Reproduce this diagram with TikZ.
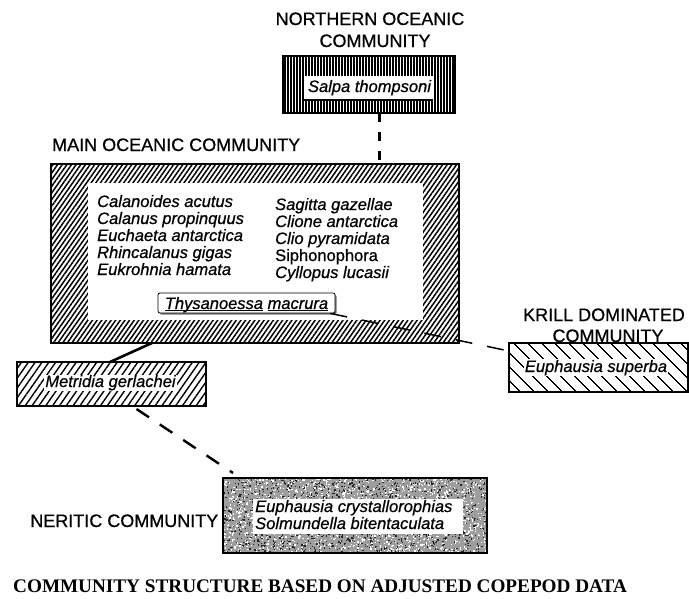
\documentclass[tikz,border=0pt]{standalone}
\usepackage{fontspec}
\setmainfont{Liberation Sans}[FakeBold=0.7]
\newfontfamily\capserif{Liberation Serif}
\usetikzlibrary{patterns.meta,calc}
\begin{document}
\begin{tikzpicture}[x=1pt,y=-1pt,
  ttl/.style={font=\fontsize{18}{20}\selectfont, inner sep=0pt},
  spec/.style={font=\fontsize{16.5}{17}\selectfont\itshape, inner sep=0pt},
  specup/.style={font=\fontsize{16.5}{17}\selectfont, inner sep=0pt},
  framed/.style={draw=black, line width=1.6pt, inner sep=0pt, outer sep=0pt},
  whitearea/.style={fill=white, draw=none, inner sep=0pt, outer sep=0pt},
  mainhatch/.style={framed, pattern={Lines[angle=55,distance=3.8pt,line width=1.5pt]}},
  methatch/.style={framed, pattern={Lines[angle=55,distance=5.6pt,line width=1.4pt]}},
  krillhatch/.style={framed, pattern={Lines[angle=-45,distance=10.5pt,line width=1.3pt]}},
  northhatch/.style={framed, pattern={Lines[angle=90,distance=3pt,line width=1.5pt]}},
  link/.style={line width=2.6pt},
  dashlink/.style={line width=2.4pt, dash pattern=on 15pt off 13pt},
  vdash/.style={line width=3pt, dash pattern=on 9pt off 10pt},
  thinlink/.style={line width=1.5pt, dash pattern=on 17pt off 15pt}
]
\useasboundingbox (0,0) rectangle (689,598);

% ---------------- Northern oceanic community
\node[ttl, anchor=base] (ntitle1) at (370,25) {NORTHERN OCEANIC};
\node[ttl, anchor=base] (ntitle2) at (375,47) {COMMUNITY};
\node[northhatch, minimum width=172, minimum height=57] (north) at (369,84.5) {};
\node[whitearea, minimum width=129, minimum height=24] (ninner) at (368.5,88) {};
\draw[line width=2.2pt] (ninner.south west) -- (ninner.south east);
\node[spec, anchor=base] (salpa) at (369.5,92) {Salpa thompsoni};

% ---------------- Main oceanic community
\node[ttl, anchor=base west] (mtitle) at (52,151) {MAIN OCEANIC COMMUNITY};
\node[mainhatch, minimum width=408, minimum height=179] (main) at (255,253.5) {};
\node[whitearea, minimum width=335, minimum height=137] (minner) at (255.5,251.5) {};

\foreach \t [count=\i] in {Calanoides acutus, Calanus propinquus, Euchaeta antarctica, Rhincalanus gigas, Eukrohnia hamata}
  \node[spec, anchor=base west] (ca\i) at (97,{207+17*(\i-1)}) {\t};
\node[spec, anchor=base west] (cb1) at (275,210) {Sagitta gazellae};
\node[spec, anchor=base west] (cb2) at (275,227) {Clione antarctica};
\node[spec, anchor=base west] (cb3) at (275,244) {Clio pyramidata};
\node[specup, anchor=base west] (cb4) at (275,261) {Siphonophora};
\node[spec, anchor=base west] (cb5) at (275,278) {Cyllopus lucasii};

\node[draw=black, line width=0.8pt, fill=white, rounded corners=2pt, inner sep=0pt,
      minimum width=177, minimum height=20,
      preaction={fill=black!55, rounded corners=2pt, transform canvas={shift={(1.5pt,-1.5pt)}}}]
      (thys) at (246.5,303) {};
\node[spec, anchor=base] (thystext) at (246.5,309) {\underline{\smash{Thysanoessa}} \underline{\smash{macrura}}};

% ---------------- Krill dominated community
\node[ttl, anchor=base] (ktitle1) at (604,321) {KRILL DOMINATED};
\node[ttl, anchor=base] (ktitle2) at (608,342) {COMMUNITY};
\node[krillhatch, minimum width=179, minimum height=49] (krill) at (598.5,367.5) {};
\node[spec, anchor=base, fill=white, inner xsep=1pt, inner ysep=1pt] (ksp) at (596,372) {Euphausia superba};

% ---------------- Metridia
\node[methatch, minimum width=189, minimum height=44] (metr) at (111.5,384) {};
\node[spec, anchor=base, fill=white, inner xsep=1pt, inner ysep=0.5pt] (mtext) at (110.5,387) {Metridia gerlachei};

% ---------------- Neritic community
\node[ttl, anchor=base east] (neriticlabel) at (218.5,527) {NERITIC COMMUNITY};
\node[framed, fill=black!38, minimum width=264, minimum height=75] (neritic) at (355,515.5) {};
\begin{scope}
  \clip (neritic.north west) rectangle (neritic.south east);
  \pgfmathsetseed{7}
  \foreach \k in {1,...,1400} {
    \pgfmathsetmacro\rx{223+264*rnd}
    \pgfmathsetmacro\ry{478+75*rnd}
    \fill[black!85] (\rx,\ry) rectangle ++(1.3,1.3);
  }
  \foreach \k in {1,...,1600} {
    \pgfmathsetmacro\rx{223+264*rnd}
    \pgfmathsetmacro\ry{478+75*rnd}
    \fill[white] (\rx,\ry) rectangle ++(1.3,1.3);
  }
\end{scope}
\draw[line width=1.6pt] (neritic.north west) rectangle (neritic.south east);
\node[whitearea, minimum width=210, minimum height=35] (ninner2) at (358,516.5) {};
\node[spec, anchor=base west] (ner1) at (255,512) {Euphausia crystallorophias};
\node[spec, anchor=base west] (ner2) at (255,529) {Solmundella bitentaculata};

% ---------------- Connectors
\draw[vdash] ([xshift=10pt]north.south) -- ([xshift=10pt]north.south |- main.north);
\draw[link] ([xshift=-103pt]main.south) -- ([xshift=-1.5pt]metr.north);
\draw[dashlink] ([xshift=25pt,yshift=-3pt]metr.south) -- ([xshift=10pt,yshift=5pt]neritic.north west);
\draw[thinlink] ([xshift=-5pt]thys.south east) -- ([yshift=-8pt]krill.north west);

% ---------------- Caption
\node[anchor=base west, inner sep=0pt, font=\capserif\bfseries\fontsize{19.2}{22}\selectfont] (caption) at (13,592)
  {COMMUNITY STRUCTURE BASED ON ADJUSTED COPEPOD DATA};
\end{tikzpicture}
\end{document}
